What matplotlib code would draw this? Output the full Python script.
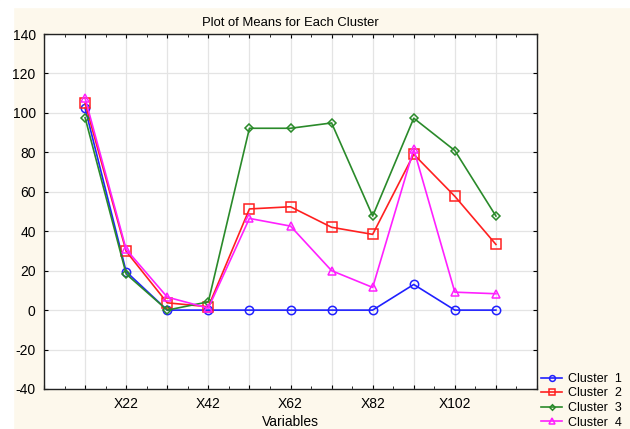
import matplotlib
matplotlib.use("Agg")
import matplotlib.pyplot as plt
from matplotlib.patches import Rectangle
import numpy as np

plt.rcParams['font.family'] = ['Liberation Sans', 'DejaVu Sans']
plt.rcParams['axes.unicode_minus'] = False

# means, one value per variable
x_pos = np.arange(1, 12)
cluster1 = [102.4, 19.5, 0, 0, 0, 0, 0, 0, 13, 0, 0]
cluster2 = [104.9, 29.8, 3.7, 1.7, 51.3, 52.4, 42, 38.4, 79, 57.7, 33.3]
cluster3 = [97.6, 18.3, 0, 4.2, 92.2, 92.2, 94.9, 47.7, 97.3, 80.9, 47.7]
cluster4 = [107.5, 30.8, 6.6, 1, 46.5, 42.6, 20, 11.5, 81.6, 9.1, 8.3]
tick_pos = [2, 4, 6, 8, 10]
tick_labels = ["X22", "X42", "X62", "X82", "X102"]
names = ["Cluster  1", "Cluster  2", "Cluster  3", "Cluster  4"]

bg = "#fdf8ec"
fig = plt.figure(figsize=(6.3, 4.29), dpi=100, facecolor=bg)
# white border of the screenshot
fig.patches.append(Rectangle((0, 0), 13 / 630, 1, transform=fig.transFigure, color="white", zorder=-1))
fig.patches.append(Rectangle((0, 1 - 7 / 429), 1, 7 / 429, transform=fig.transFigure, color="white", zorder=-1))

ax = fig.add_axes([44 / 630, 1 - 389 / 429, (537 - 44) / 630, (389 - 34) / 429])
ax.set_facecolor("white")

styles = [
    (cluster1, "#2020ff", "o", 6),
    (cluster2, "#ff2020", "s", 7),
    (cluster3, "#2a8a2a", "D", 4),
    (cluster4, "#ff20ff", "^", 6),
]
for (vals, col, mk, ms), name in zip(styles, names):
    ax.plot(x_pos, vals, color=col, lw=1.2, marker=mk, ms=ms,
            mfc="none", mec=col, mew=1.1, label=name)

ax.set_xlim(0, 12)
ax.set_ylim(-40, 140)
ax.set_yticks(np.arange(-40, 141, 20))
ax.set_xticks(np.arange(0, 13, 1))
ax.set_xticklabels(["" if i not in tick_pos else tick_labels[tick_pos.index(i)] for i in range(13)])
ax.set_xticks(np.arange(0, 12.01, 0.5), minor=True)
ax.grid(True, color="#e4e4e4", lw=0.9)
ax.set_axisbelow(True)
ax.tick_params(direction="in", length=3, width=0.8, labelsize=10, top=True, right=True, pad=6)
ax.tick_params(which="minor", direction="in", length=2, width=0.6, top=True)
for s in ax.spines.values():
    s.set_linewidth(1.0)
    s.set_color("#222222")

ax.set_title("Plot of Means for Each Cluster", fontsize=9.4, pad=6)
ax.set_xlabel("Variables", fontsize=10, labelpad=3)

fig.legend(loc="upper left", bbox_to_anchor=(541 / 630, 1 - 373 / 429), frameon=False,
           fontsize=9, handlelength=1.7, handletextpad=0.45, labelspacing=0.2,
           borderaxespad=0, borderpad=0, markerscale=0.7)

fig.savefig("out.png", dpi=100, facecolor=bg)
